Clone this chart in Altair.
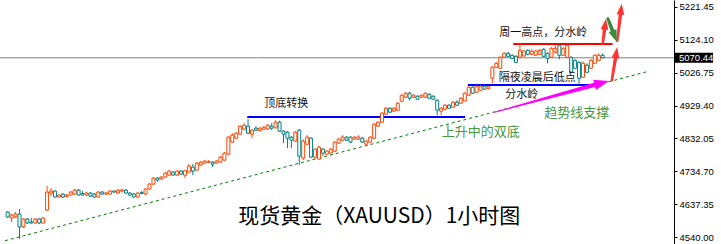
import altair as alt
import pandas as pd

# ---------------- candle data (XAUUSD 1h) ----------------
opens = [4614.6, 4596.9, 4599.9, 4608.7, 4570.4, 4594.0, 4585.1, 4582.2, 4594.0, 4582.2,
         4620.5, 4670.7, 4676.6, 4658.9, 4667.7, 4660.3, 4664.8, 4667.7, 4679.5, 4669.2,
         4664.8, 4670.7, 4667.7, 4658.9, 4673.6, 4667.7, 4667.7, 4676.6, 4670.7, 4676.6,
         4679.5, 4670.7, 4667.7, 4658.9, 4672.1, 4667.7, 4682.5, 4697.2, 4714.9, 4712.0,
         4717.9, 4723.8, 4732.6, 4723.8, 4735.6, 4723.8, 4732.6, 4747.4, 4738.5, 4753.3,
         4759.2, 4762.1, 4762.1, 4759.2, 4762.1, 4768.0, 4785.7, 4821.1, 4832.9, 4844.7,
         4859.5, 4868.3, 4844.7, 4862.4, 4855.0, 4859.5, 4859.5, 4868.3, 4863.3, 4880.1,
         4853.6, 4850.6, 4835.9, 4824.1, 4856.5, 4773.9, 4815.2, 4832.9, 4776.9, 4771.0,
         4800.5, 4785.7, 4788.7, 4794.6, 4818.2, 4827.0, 4835.9, 4835.9, 4830.0, 4830.0,
         4832.9, 4815.2, 4821.1, 4832.9, 4868.3, 4880.1, 4903.7, 4921.4, 4912.6, 4915.5,
         4942.1, 4953.9, 4965.7, 4953.9, 4956.8, 4953.9, 4953.9, 4962.7, 4956.8, 4945.0,
         4912.6, 4918.5, 4930.3, 4924.4, 4939.1, 4936.2, 4942.9, 4959.8, 4983.4, 4968.6,
         4974.5, 4986.3, 4978.9, 5009.9, 5042.4, 5039.4, 5071.9, 5083.7, 5077.8, 5074.8,
         5071.9, 5075.7, 5092.5, 5080.7, 5077.8, 5080.7, 5095.5, 5083.7, 5071.9, 5086.6,
         5107.3, 5077.8, 5071.9, 5071.9, 5063.0, 5057.1, 5012.9, 5048.3, 5039.4, 5054.2,
         5063.0, 5077.8]
highs = [4617.6, 4608.7, 4614.6, 4623.5, 4596.9, 4596.9, 4596.9, 4596.9, 4596.9, 4599.9,
         4691.3, 4685.4, 4679.5, 4667.7, 4670.7, 4667.7, 4676.6, 4682.5, 4682.5, 4676.6,
         4673.6, 4673.6, 4670.7, 4676.6, 4676.6, 4673.6, 4679.5, 4678.0, 4682.5, 4683.9,
         4682.5, 4673.6, 4670.7, 4673.6, 4676.6, 4685.4, 4700.2, 4717.9, 4717.9, 4720.8,
         4732.6, 4738.5, 4735.6, 4738.5, 4738.5, 4738.5, 4756.2, 4756.2, 4762.1, 4765.1,
         4768.0, 4768.0, 4765.1, 4768.0, 4779.8, 4791.6, 4838.8, 4847.7, 4850.6, 4871.3,
         4877.2, 4889.0, 4859.5, 4868.3, 4865.4, 4868.3, 4874.2, 4877.2, 4886.0, 4884.5,
         4856.5, 4853.6, 4838.8, 4853.6, 4859.5, 4830.0, 4841.8, 4835.9, 4803.4, 4810.8,
         4803.4, 4797.5, 4803.4, 4824.1, 4832.9, 4841.8, 4838.8, 4838.8, 4838.8, 4841.8,
         4835.9, 4827.0, 4838.8, 4877.2, 4883.1, 4909.6, 4924.4, 4924.4, 4924.4, 4939.1,
         4962.7, 4968.6, 4970.1, 4962.7, 4959.8, 4961.2, 4968.6, 4965.7, 4959.8, 4948.0,
         4924.4, 4933.2, 4933.2, 4942.1, 4945.0, 4953.9, 4968.6, 4986.3, 4986.3, 4989.3,
         4989.3, 4989.3, 4986.3, 5045.3, 5057.1, 5074.8, 5086.6, 5088.1, 5080.7, 5077.8,
         5113.2, 5092.5, 5095.5, 5095.5, 5094.0, 5095.5, 5098.4, 5086.6, 5101.4, 5107.3,
         5113.2, 5101.4, 5110.2, 5074.8, 5066.0, 5060.1, 5060.1, 5054.2, 5066.0, 5080.7,
         5083.7, 5083.7]
lows = [4596.9, 4585.1, 4596.9, 4535.0, 4567.4, 4579.2, 4580.7, 4580.7, 4579.2, 4580.7,
        4617.6, 4661.8, 4657.4, 4655.9, 4655.9, 4657.4, 4663.3, 4666.2, 4663.3, 4663.3,
        4663.3, 4660.3, 4657.4, 4657.4, 4666.2, 4664.8, 4666.2, 4672.1, 4669.2, 4672.1,
        4669.2, 4663.3, 4657.4, 4657.4, 4667.7, 4666.2, 4681.0, 4695.7, 4704.6, 4710.5,
        4716.4, 4722.3, 4722.3, 4720.8, 4725.2, 4714.9, 4731.1, 4723.8, 4737.0, 4751.8,
        4757.7, 4759.2, 4747.4, 4757.7, 4760.6, 4766.5, 4782.8, 4819.6, 4831.4, 4843.2,
        4858.0, 4844.7, 4832.9, 4853.6, 4853.6, 4858.0, 4858.0, 4856.5, 4862.4, 4852.1,
        4818.2, 4803.4, 4803.4, 4822.6, 4753.3, 4768.0, 4812.3, 4773.9, 4771.0, 4769.5,
        4779.8, 4784.2, 4787.2, 4793.1, 4816.7, 4825.5, 4824.1, 4818.2, 4828.5, 4828.5,
        4818.2, 4809.3, 4819.6, 4831.4, 4866.8, 4878.6, 4902.2, 4908.1, 4911.1, 4914.0,
        4940.6, 4952.4, 4945.0, 4952.4, 4946.5, 4952.4, 4952.4, 4949.4, 4946.5, 4900.8,
        4900.8, 4915.5, 4919.9, 4922.9, 4928.8, 4934.7, 4942.1, 4958.3, 4964.2, 4967.1,
        4973.0, 4976.0, 4977.5, 4995.2, 5040.9, 5037.9, 5070.4, 5073.3, 5067.4, 5054.2,
        5068.9, 5074.8, 5077.8, 5077.8, 5076.3, 5079.2, 5073.3, 5054.2, 5070.4, 5085.1,
        5066.0, 5076.3, 5070.4, 5024.7, 5037.9, 4989.3, 5011.4, 5026.1, 5037.9, 5052.7,
        5061.5, 5068.9]
closes = [4599.9, 4605.8, 4608.7, 4570.4, 4594.0, 4582.2, 4582.2, 4594.0, 4582.2, 4596.9,
          4673.6, 4676.6, 4658.9, 4664.8, 4658.9, 4664.8, 4673.6, 4679.5, 4664.8, 4664.8,
          4670.7, 4661.8, 4658.9, 4673.6, 4667.7, 4670.7, 4676.6, 4673.6, 4679.5, 4679.5,
          4670.7, 4664.8, 4658.9, 4670.7, 4669.2, 4682.5, 4697.2, 4714.9, 4709.0, 4717.9,
          4729.7, 4735.6, 4723.8, 4735.6, 4726.7, 4737.0, 4750.3, 4735.6, 4759.2, 4762.1,
          4765.1, 4763.6, 4756.2, 4765.1, 4776.9, 4788.7, 4835.9, 4841.8, 4847.7, 4868.3,
          4871.3, 4847.7, 4856.5, 4856.5, 4862.4, 4865.4, 4871.3, 4862.4, 4880.1, 4853.6,
          4844.7, 4832.9, 4827.0, 4850.6, 4779.8, 4824.1, 4835.9, 4776.9, 4800.5, 4806.4,
          4788.7, 4794.6, 4800.5, 4821.1, 4830.0, 4835.9, 4827.0, 4821.1, 4835.9, 4835.9,
          4821.1, 4824.1, 4835.9, 4874.2, 4880.1, 4906.7, 4921.4, 4909.6, 4921.4, 4936.2,
          4959.8, 4965.7, 4950.9, 4959.8, 4948.0, 4959.8, 4965.7, 4950.9, 4948.0, 4915.5,
          4921.4, 4930.3, 4921.4, 4939.1, 4930.3, 4950.9, 4965.7, 4983.4, 4965.7, 4986.3,
          4986.3, 4977.5, 4984.8, 5042.4, 5054.2, 5071.9, 5083.7, 5074.8, 5068.9, 5057.1,
          5092.5, 5090.4, 5080.7, 5089.6, 5090.4, 5092.5, 5074.8, 5068.9, 5098.4, 5098.4,
          5077.8, 5098.4, 5107.3, 5027.6, 5039.4, 5009.9, 5054.2, 5027.6, 5063.0, 5077.8,
          5077.8, 5070.44]

# ---------------- annotation data ----------------
y_ticks = [4540.00, 4637.35, 4734.70, 4832.05, 4929.40, 5026.75, 5124.10, 5221.45]
last_price = [5070.44]

hline_x1 = [60.8, 116.8, 128.3]
hline_x2 = [116.1, 149.3, 153.5]
hline_price = [4895.7, 4990.0, 5111.0]
hline_color = ["#0000ff", "#0000ff", "#ff0000"]

trend_x = [-0.675, 162.65]
trend_price = [4529.9, 5030.6]

shaft_id = ["m", "m", "r1", "r1", "r2", "r2", "g", "g", "r3", "r3"]
shaft_ord = [0, 1, 0, 1, 0, 1, 0, 1, 0, 1]
shaft_x = [123.575, 148.95, 151.0, 151.465, 153.325, 154.25, 152.325, 153.5, 154.7, 155.5]
shaft_price = [4909.6, 4990.4, 5112.3, 5153.9, 5004.0, 5070.1, 5186.0, 5150.0, 5120.5, 5198.1]
shaft_w = [1.0, 4.5, 2.5, 3.5, 2.5, 3.5, 3.0, 4.0, 2.5, 3.5]
shaft_col = ["#ff00ff"] * 2 + ["#ff3333"] * 4 + ["#3a8a3a"] * 2 + ["#ff3333"] * 2

head_x = [150.775, 151.645, 154.475, 154.04, 155.66]
head_price = [4996.0, 5169.9, 5086.3, 5133.5, 5214.2]
head_angle = [74.9, 7.5, 9.4, 159.0, 6.9]
head_size = [225, 121, 121, 144, 121]
head_col = ["#ff00ff", "#ff3333", "#ff3333", "#3a8a3a", "#ff3333"]

label_text = ["顶底转换", "周一高点，分水岭", "隔夜凌晨后低点", "分水岭"]
label_x = [65.1, 124.75, 124.6, 126.25]
label_price = [4933.2, 5144.7, 5012.0, 4961.8]

green_text = ["趋势线支撑", "上升中的双底"]
green_x = [136.15, 110.15]
green_price = [4908.7, 4851.5]

title_text = ["现货黄金（XAUUSD）1小时图"]
title_x = [58.5]
title_price = [4600.7]

# ---------------- build chart ----------------
df = pd.DataFrame({"i": list(range(len(closes))), "open": opens, "high": highs,
                   "low": lows, "close": closes})
df["dir"] = ["up" if c >= o else "down" for o, c in zip(opens, closes)]

xs = alt.Scale(domain=[-0.675, 167.825], nice=False, zero=False)
ys = alt.Scale(domain=[4520.2, 5241.2], nice=False, zero=False)
dir_scale = alt.Scale(domain=["up", "down"], range=["#ff4500", "#008080"])

yaxis = alt.Axis(orient="right", values=y_ticks, format=".2f", title=None, grid=False,
                 tickSize=3, labelPadding=2, domainColor="black", tickColor="black",
                 labelColor="black", labelFont="Liberation Sans", labelFontSize=9.5,
                 labelFlush=False, labelOverlap=False, domainWidth=1, tickWidth=1)


def Y(field):
    return alt.Y(field, scale=ys, axis=yaxis, title=None)


def X(field):
    return alt.X(field, scale=xs, axis=None, title=None)


price_line = alt.Chart(pd.DataFrame({"p": last_price})).mark_rule(
    color="#808080", strokeWidth=1).encode(
    y=Y("p:Q"), x=alt.value(0), x2=alt.value(674))

hl_df = pd.DataFrame({"x1": hline_x1, "x2": hline_x2, "p": hline_price, "c": hline_color})
hlines = alt.Chart(hl_df).mark_rule(strokeWidth=2).encode(
    x=X("x1:Q"), x2="x2:Q", y=Y("p:Q"),
    color=alt.Color("c:N", scale=None))

trend = alt.Chart(pd.DataFrame({"x": trend_x, "p": trend_price})).mark_line(
    color="#008000", strokeWidth=1, strokeDash=[3, 3]).encode(
    x=X("x:Q"), y=Y("p:Q"))

wicks = alt.Chart(df).mark_rule(strokeWidth=1).encode(
    x=X("i:Q"), y=Y("low:Q"), y2="high:Q",
    color=alt.Color("dir:N", scale=dir_scale, legend=None))

bodies = alt.Chart(df).mark_bar(size=3, fill="white", strokeWidth=1).encode(
    x=X("i:Q"), y=Y("open:Q"), y2="close:Q",
    stroke=alt.Stroke("dir:N", scale=dir_scale, legend=None))

sh_df = pd.DataFrame({"id": shaft_id, "o": shaft_ord, "x": shaft_x, "p": shaft_price,
                      "w": shaft_w, "c": shaft_col})
shafts = alt.Chart(sh_df).mark_trail().encode(
    x=X("x:Q"), y=Y("p:Q"),
    size=alt.Size("w:Q", scale=None, legend=None),
    detail="id:N", order="o:Q",
    color=alt.Color("c:N", scale=None))

hd_df = pd.DataFrame({"x": head_x, "p": head_price, "a": head_angle, "s": head_size, "c": head_col})
heads = alt.Chart(hd_df).mark_point(shape="M0,-1L0.7,1L-0.7,1Z", filled=True, opacity=1,
                                    strokeWidth=0).encode(
    x=X("x:Q"), y=Y("p:Q"),
    angle=alt.Angle("a:Q", scale=None),
    size=alt.Size("s:Q", scale=None, legend=None),
    color=alt.Color("c:N", scale=None))

labels = alt.Chart(pd.DataFrame({"t": label_text, "x": label_x, "p": label_price})).mark_text(
    align="left", baseline="middle", font="Noto Sans CJK SC", fontSize=11, color="#111111").encode(
    x=X("x:Q"), y=Y("p:Q"), text="t:N")

glabels = alt.Chart(pd.DataFrame({"t": green_text, "x": green_x, "p": green_price})).mark_text(
    align="left", baseline="middle", font="Noto Sans CJK SC", fontSize=13, color="#449944").encode(
    x=X("x:Q"), y=Y("p:Q"), text="t:N")

title = alt.Chart(pd.DataFrame({"t": title_text, "x": title_x, "p": title_price})).mark_text(
    align="left", baseline="middle", font="Noto Sans CJK SC", fontSize=21, color="#000000").encode(
    x=X("x:Q"), y=Y("p:Q"), text="t:N")

tag_box = alt.Chart(pd.DataFrame({"p": last_price})).mark_rect(
    color="black", yOffset=-5, y2Offset=5).encode(
    y=Y("p:Q"), y2="p:Q", x=alt.value(674), x2=alt.value(713))

tag_text = alt.Chart(pd.DataFrame({"p": last_price, "t": ["5070.44"]})).mark_text(
    align="left", baseline="middle", font="Liberation Sans", fontSize=9.5, color="white").encode(
    y=Y("p:Q"), x=alt.value(679), text="t:N")

chart = alt.layer(price_line, hlines, trend, wicks, bodies, shafts, heads,
                  labels, glabels, title, tag_box, tag_text).properties(
    width=674, height=244,
    padding={"left": 0, "right": 47, "top": 0, "bottom": 0},
    autosize=alt.AutoSizeParams(type="none"),
    background="white",
).configure_view(stroke=None)

chart.save("out.html", embed_options={"renderer": "svg", "actions": False})
